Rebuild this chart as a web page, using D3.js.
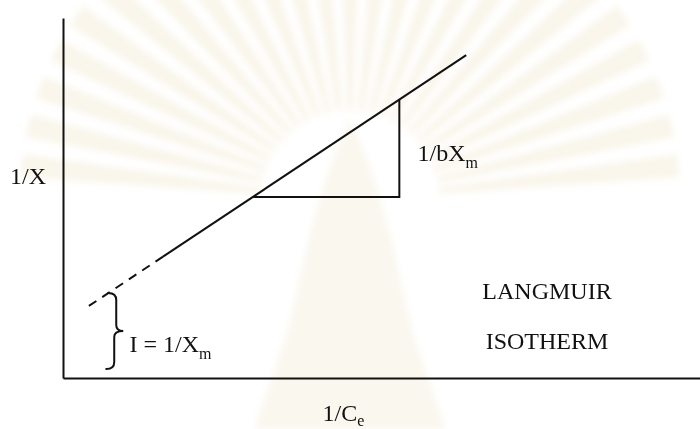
<!DOCTYPE html>
<html>
<head>
<meta charset="utf-8">
<script src="https://cdn.jsdelivr.net/npm/d3@7/dist/d3.min.js"></script>
<style>
  html, body { margin: 0; padding: 0; background: #ffffff; }
  svg { display: block; }
  text { font-family: "Liberation Serif", "Times New Roman", serif; fill: #111; }
</style>
</head>
<body>
<svg id="chart" width="700" height="429"></svg>
<script>
// Langmuir linear plot: 1/X against 1/Ce (arbitrary units)
const xDomain = [0, 10];
const yDomain = [0, 10];

// extrapolated (dashed) part of the line towards the intercept
const dashedX = [0.38, 1.57];
const dashedY = [1.97, 3.37];

// measured (solid) part of the line
const solidX = [1.57, 6.33];
const solidY = [3.37, 8.97];

// slope triangle: run along the bottom, rise up the right side
const triangleX = [2.98, 5.28, 5.28];
const triangleY = [5.03, 5.03, 7.73];

// intercept brace: from the line down towards the axis
const braceX = 0.82;
const braceY = [2.36, 0.25];

const svg = d3.select("#chart");

const x = d3.scaleLinear().domain(xDomain).range([63, 700]);
const y = d3.scaleLinear().domain(yDomain).range([378, 18]);

// very faint, soft emblem watermark behind the plot
const defs = svg.append("defs");
defs.append("filter").attr("id", "soft")
  .append("feGaussianBlur").attr("stdDeviation", 3);

const wm = svg.append("g").attr("filter", "url(#soft)").attr("opacity", 0.35);
const rays = d3.range(-84, 85, 7);
const arc = d3.arc();
wm.selectAll("path.ray").data(rays).join("path")
  .attr("class", "ray")
  .attr("transform", "translate(350,200)")
  .attr("d", a => arc({
    innerRadius: 90, outerRadius: 330,
    startAngle: (a - 2) * Math.PI / 180,
    endAngle: (a + 2) * Math.PI / 180
  }))
  .attr("fill", "#efe4c6");
wm.append("path")
  .attr("d", "M350,120 C325,170 310,230 295,300 C282,360 262,400 255,429 L445,429 C438,400 418,360 405,300 C390,230 375,170 350,120 Z")
  .attr("fill", "#f1e8cf");

// axes without ticks
svg.append("g")
  .attr("transform", `translate(0,${y(0)})`)
  .call(d3.axisBottom(x).tickValues([]).tickSizeOuter(0))
  .call(g => g.select(".domain").attr("stroke", "#111").attr("stroke-width", 2));

svg.append("g")
  .attr("transform", `translate(${x(0)},0)`)
  .call(d3.axisLeft(y).tickValues([]).tickSizeOuter(0))
  .call(g => g.select(".domain").attr("stroke", "#111").attr("stroke-width", 2));

const line = d3.line().x(d => x(d[0])).y(d => y(d[1]));

svg.append("path")
  .attr("d", line(d3.zip(dashedX, dashedY).reverse()))
  .attr("fill", "none").attr("stroke", "#111").attr("stroke-width", 2)
  .attr("stroke-dasharray", "9,7");

svg.append("path")
  .attr("d", line(d3.zip(solidX, solidY)))
  .attr("fill", "none").attr("stroke", "#111").attr("stroke-width", 2);

svg.append("path")
  .attr("d", line(d3.zip(triangleX, triangleY)))
  .attr("fill", "none").attr("stroke", "#111").attr("stroke-width", 2);

// curly brace marking the intercept
const bx = x(braceX), bt = y(braceY[0]), bb = y(braceY[1]);
const bm = (bt + bb) / 2;
const brace = d3.path();
brace.moveTo(bx - 7, bt);
brace.quadraticCurveTo(bx + 1, bt, bx + 1, bt + 7);
brace.lineTo(bx + 1, bm - 6);
brace.quadraticCurveTo(bx + 1, bm, bx + 8, bm);
brace.quadraticCurveTo(bx - 1, bm, bx - 1, bm + 6);
brace.lineTo(bx - 1, bb - 7);
brace.quadraticCurveTo(bx - 1, bb, bx - 9, bb);
svg.append("path")
  .attr("d", brace.toString())
  .attr("fill", "none").attr("stroke", "#111").attr("stroke-width", 2)
  .attr("stroke-linecap", "round");

// labels
function label(px, py, main, sub, anchor, subDy) {
  const t = svg.append("text")
    .attr("x", px).attr("y", py)
    .attr("font-size", 24)
    .attr("text-anchor", anchor || "start");
  t.append("tspan").text(main);
  if (sub) t.append("tspan").attr("font-size", 16).attr("dy", subDy || 7).text(sub);
  return t;
}

label(10, 184, "1/X");
label(417.5, 161, "1/bX", "m");
label(129.5, 352, "I = 1/X", "m");
label(322.5, 421, "1/C", "e", "start", 5);
label(547, 299, "LANGMUIR", null, "middle");
label(547, 349, "ISOTHERM", null, "middle");
</script>
</body>
</html>
